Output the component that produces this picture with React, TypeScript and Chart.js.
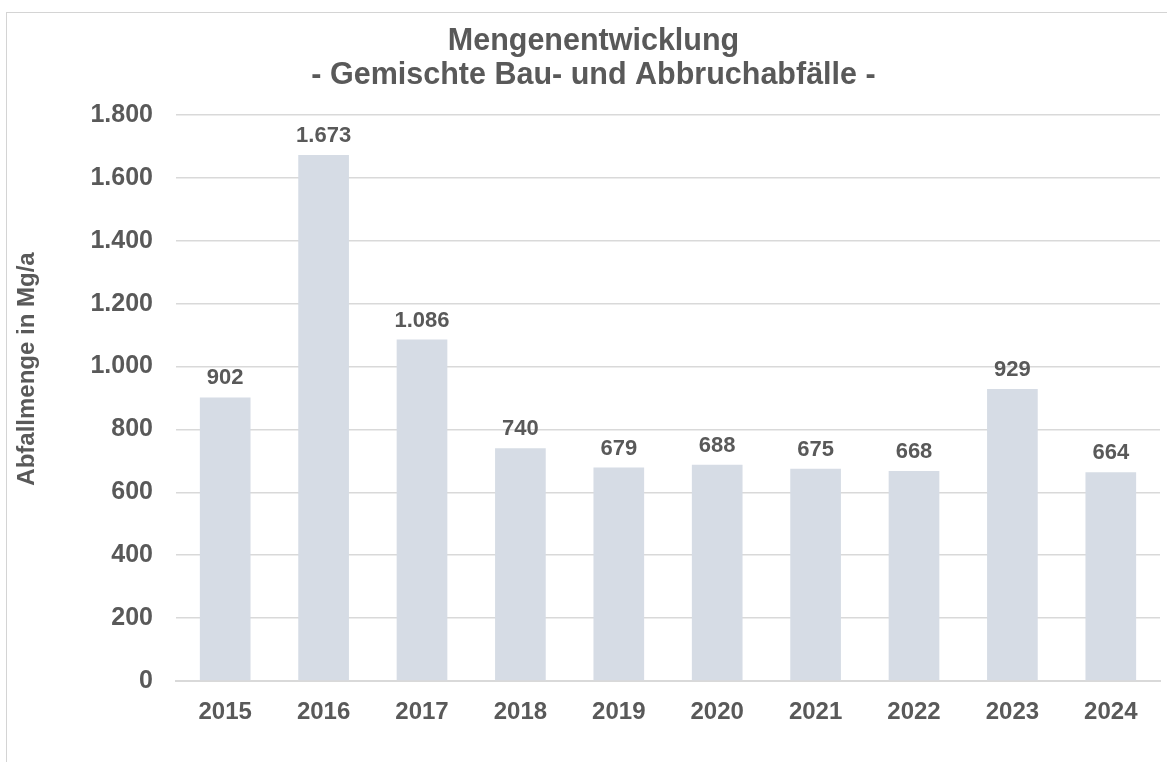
import React, { useEffect, useRef } from "react";
import { Chart, registerables } from "chart.js";

Chart.register(...registerables);

const categories = ["2015", "2016", "2017", "2018", "2019", "2020", "2021", "2022", "2023", "2024"];
const values = [902, 1673, 1086, 740, 679, 688, 675, 668, 929, 664];
const titleLines = ["Mengenentwicklung", "- Gemischte Bau- und Abbruchabfälle -"];
const yAxisTitle = "Abfallmenge in Mg/a";

const FONT = "'Liberation Sans', Arial, Helvetica, sans-serif";
const TEXT = "#595959";
const BAR = "#d6dce5";
const GRID = "#d9d9d9";

function fmt(v: number): string {
  return Math.round(v).toString().replace(/\B(?=(\d{3})+(?!\d))/g, ".");
}

const dataLabelPlugin = {
  id: "dataLabels",
  afterDatasetsDraw(chart: any) {
    const ctx = chart.ctx;
    const meta = chart.getDatasetMeta(0);
    ctx.save();
    ctx.font = `bold 22px ${FONT}`;
    ctx.fillStyle = TEXT;
    ctx.textAlign = "center";
    ctx.textBaseline = "middle";
    meta.data.forEach((el: any, i: number) => {
      ctx.fillText(fmt(values[i]), el.x, el.y - 19);
    });
    ctx.restore();
  },
};

const yTitlePlugin = {
  id: "yTitle",
  afterDraw(chart: any) {
    const ctx = chart.ctx;
    ctx.save();
    ctx.translate(27, 369);
    ctx.rotate(-Math.PI / 2);
    ctx.font = `bold 24px ${FONT}`;
    ctx.fillStyle = TEXT;
    ctx.textAlign = "center";
    ctx.textBaseline = "middle";
    ctx.fillText(yAxisTitle, 0, 0);
    ctx.restore();
  },
};

export default function App() {
  const ref = useRef<HTMLCanvasElement>(null);

  useEffect(() => {
    if (!ref.current) return;
    const chart = new Chart(ref.current, {
      type: "bar",
      data: {
        labels: categories,
        datasets: [
          {
            data: values,
            backgroundColor: BAR,
            borderWidth: 0,
            barPercentage: 0.515,
            categoryPercentage: 1,
          },
        ],
      },
      options: {
        animation: false,
        responsive: false,
        layout: { padding: { left: 27, right: 7, top: 0, bottom: 0 } },
        plugins: {
          legend: { display: false },
          tooltip: { enabled: false },
          title: {
            display: true,
            text: titleLines,
            color: TEXT,
            font: { family: FONT, size: 30.5, weight: "bold", lineHeight: 1.115 },
            padding: { top: 25, bottom: 22 },
          },
        },
        scales: {
          x: {
            grid: { display: false, drawTicks: false },
            border: { display: true, color: GRID, width: 2 },
            ticks: {
              color: TEXT,
              font: { family: FONT, size: 24, weight: "bold" },
              padding: 17,
            },
            afterFit(scale: any) {
              scale.height = 81;
            },
          },
          y: {
            min: 0,
            max: 1800,
            grid: { color: GRID, lineWidth: 1.5, drawTicks: false },
            border: { display: false },
            ticks: {
              stepSize: 200,
              color: TEXT,
              font: { family: FONT, size: 25, weight: "bold" },
              padding: 23,
              callback: (v: any) => fmt(Number(v)),
            },
            afterFit(scale: any) {
              scale.width = 149;
            },
          },
        },
      },
      plugins: [dataLabelPlugin, yTitlePlugin],
    });
    return () => chart.destroy();
  }, []);

  return (
    <div style={{ position: "fixed", left: 0, top: 0, width: 1167, height: 762, background: "#fff" }}>
      <div
        style={{
          position: "absolute",
          left: 6,
          top: 12,
          width: 1161,
          height: 750,
          borderTop: "1.5px solid #d4d4d4",
          borderLeft: "1.5px solid #d4d4d4",
          boxSizing: "border-box",
        }}
      />
      <canvas ref={ref} width={1167} height={762} style={{ position: "absolute", left: 0, top: 0 }} />
    </div>
  );
}
